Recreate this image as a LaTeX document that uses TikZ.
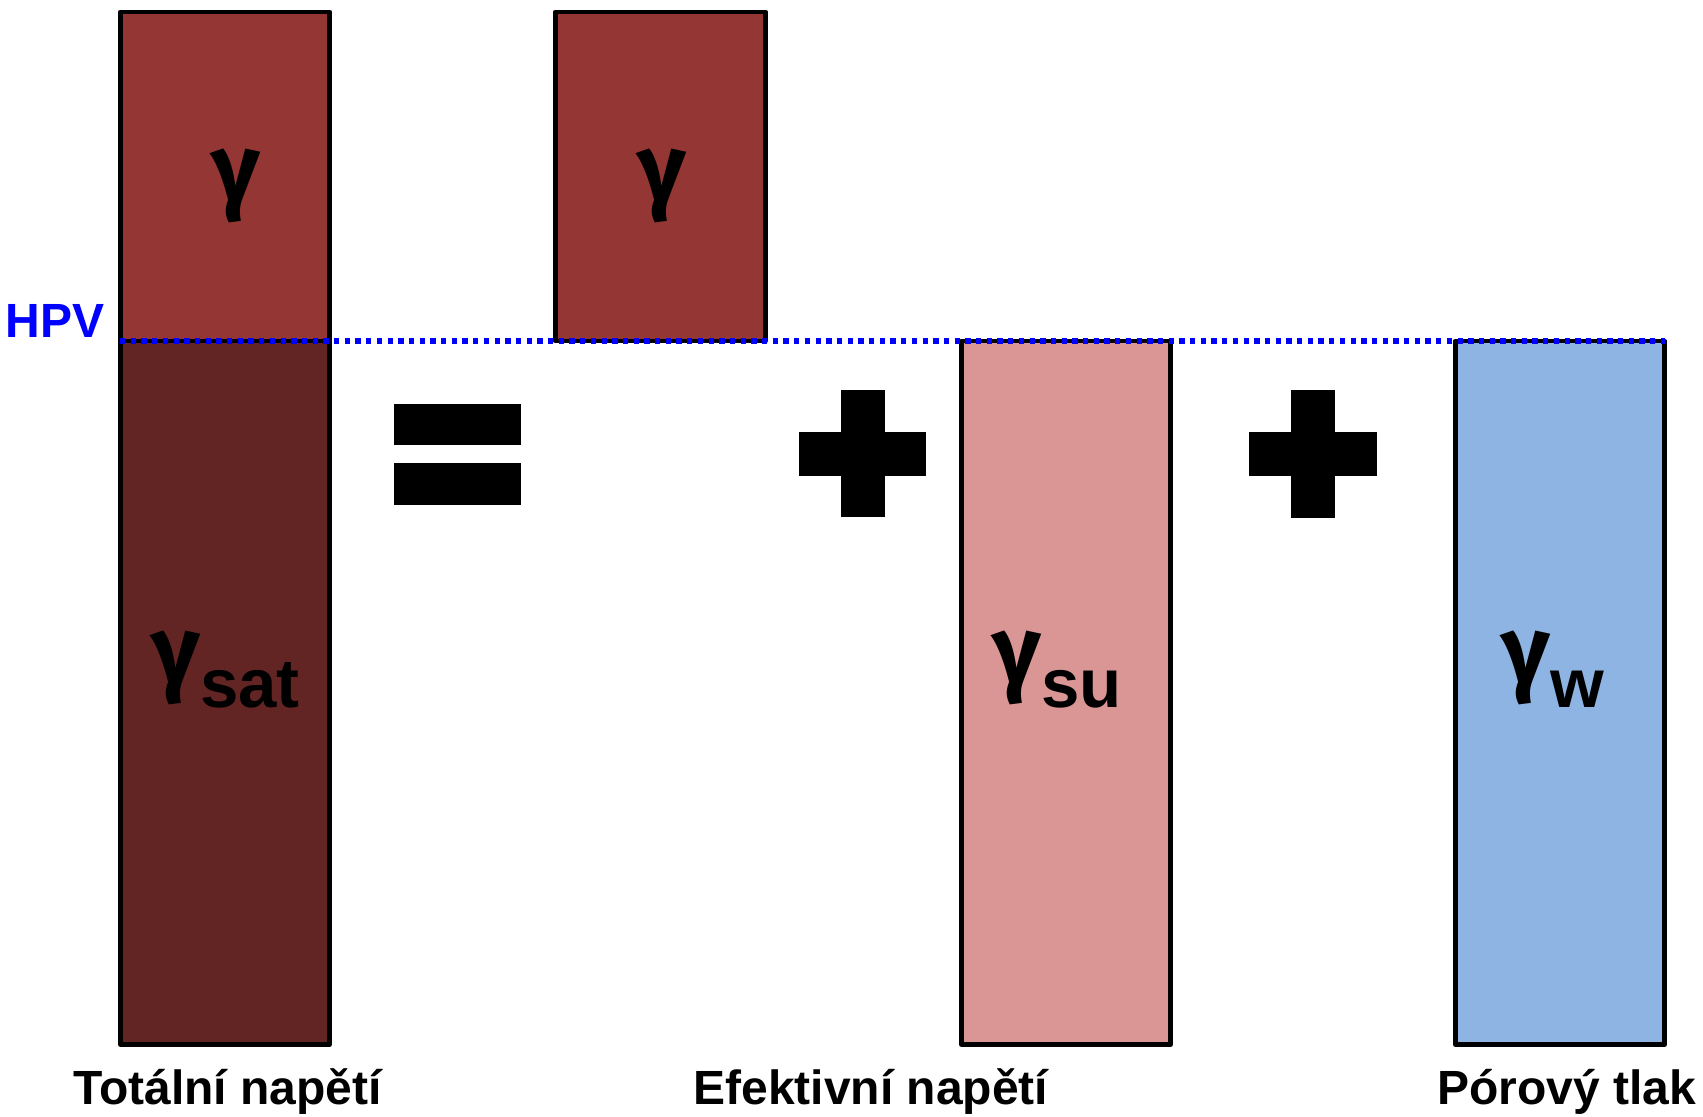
\documentclass[tikz,border=0pt]{standalone}
\usepackage{fontspec}
\setmainfont{Liberation Sans}
\newfontfamily\gfont{Fira Sans}
\definecolor{redA}{HTML}{943634}
\definecolor{redB}{HTML}{632523}
\definecolor{pinkC}{HTML}{D99694}
\definecolor{blueC}{HTML}{8EB4E3}
\definecolor{hpvblue}{HTML}{0000FF}
\newcommand{\gam}{{\gfont\bfseries\fontsize{48}{48}\selectfont γ}}
\newcommand{\subtxt}[1]{\raisebox{-12pt}{\fontsize{34.5}{34.5}\selectfont\bfseries #1}}
\begin{document}
\begin{tikzpicture}[x=0.5pt,y=-0.5pt,
  box/.style={draw=black,line width=2.35pt,line join=round},
  hpvline/.style={draw=hpvblue,line width=2.65pt,dash pattern=on 2.65pt off 2.7pt},
  lbl/.style={inner sep=0pt,anchor=base west,font=\bfseries\fontsize{24}{28}\selectfont},
  gnode/.style={inner sep=0pt,anchor=base},
  gsub/.style={inner sep=0pt,anchor=base west},
  sign/.style={fill=black}]
\useasboundingbox (0,0) rectangle (1703,1116);
\fill[white] (0,0) rectangle (1703,1116);
% boxes
\draw[box,fill=redA] (120.4,11.9) rectangle (329.6,341);
\draw[box,fill=redB] (120.4,341) rectangle (329.6,1044.6);
\draw[box,fill=redA] (555.4,11.9) rectangle (765.6,341);
\draw[box,fill=pinkC] (961.4,341) rectangle (1170.6,1044.6);
\draw[box,fill=blueC] (1455.4,341) rectangle (1664.6,1044.6);
% HPV line
\coordinate (hpvL) at (120,341);
\coordinate (hpvR) at (1665,341);
\draw[hpvline] (hpvL) -- (hpvR);
\node[lbl,text=hpvblue] (hpv) at (5,337) {HPV};
% equals
\fill[sign] (394,404) rectangle (521,445);
\fill[sign] (394,463) rectangle (521,505);
% plus signs
\fill[sign] (840.5,390) rectangle (884.5,517);
\fill[sign] (799,431.5) rectangle (926,475.5);
\fill[sign] (1291,390) rectangle (1335,518);
\fill[sign] (1249,432) rectangle (1377,476);
% gammas
\node[gnode] (g1) at (236,201) {\gam};
\node[gnode] (g2) at (662,201) {\gam};
\node[gsub] (gsat) at (151,683) {\gam\subtxt{sat}};
\node[gsub] (gsu) at (992,683) {\gam\subtxt{su}};
\node[gsub] (gw) at (1501,683) {\gam\subtxt{w}};
% labels
\node[lbl] (tot) at (73,1104) {Totální napětí};
\node[lbl] (ef) at (693,1104) {Efektivní napětí};
\node[lbl] (por) at (1437,1104) {Pórový tlak};
\end{tikzpicture}
\end{document}
